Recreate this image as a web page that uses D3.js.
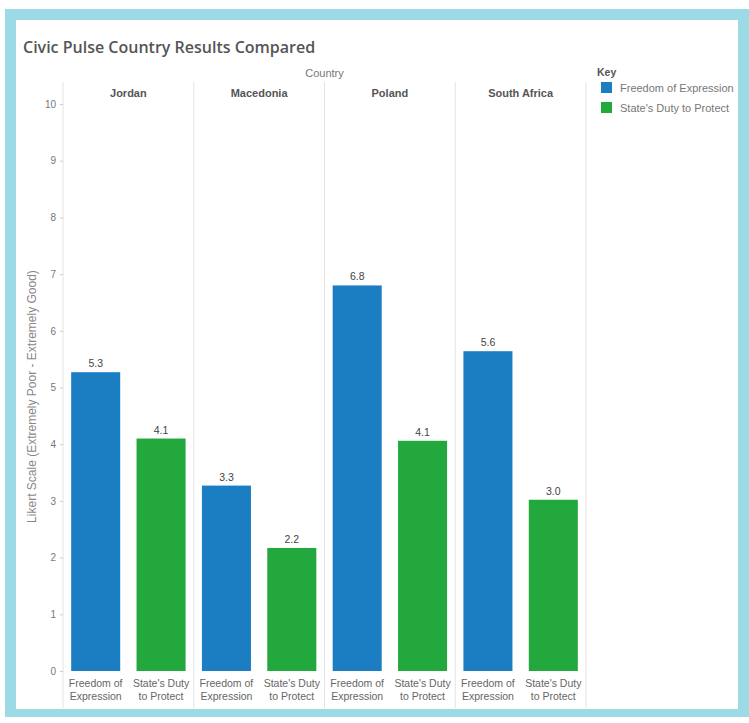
<!DOCTYPE html>
<html>
<head>
<meta charset="utf-8">
<script src="https://cdn.jsdelivr.net/npm/d3@7"></script>
<style>
  body { margin: 0; background: #fff; }
  svg { display: block; }
</style>
</head>
<body>
<div id="chart"></div>
<script>
// data
const countries = ["Jordan", "Macedonia", "Poland", "South Africa"];
const measures = ["Freedom of Expression", "State's Duty to Protect"];
const measureLines = [["Freedom of", "Expression"], ["State's Duty", "to Protect"]];
const freedomValues = [5.27, 3.27, 6.80, 5.64];
const dutyValues = [4.10, 2.17, 4.06, 3.02];
const yTicks = [0, 1, 2, 3, 4, 5, 6, 7, 8, 9, 10];
const colors = ["#1c7ec2", "#22a83c"];

const width = 749, height = 723;
const plot = {left: 63, right: 586, top: 104, bottom: 671, lineTop: 82, lineBottom: 708};

const svg = d3.select("#chart").append("svg")
  .attr("width", width)
  .attr("height", height);

// cyan frame
svg.append("rect")
  .attr("x", 5).attr("y", 9).attr("width", 744).attr("height", 708)
  .attr("fill", "#9cdbe6");
svg.append("rect")
  .attr("x", 16).attr("y", 20).attr("width", 722).attr("height", 689)
  .attr("fill", "#fff");

svg.append("text")
  .attr("x", 23).attr("y", 53)
  .attr("font-family", "'Open Sans', sans-serif")
  .attr("font-weight", 600)
  .attr("font-size", 16)
  .attr("fill", "#555")
  .text("Civic Pulse Country Results Compared");

const x0 = d3.scaleBand()
  .domain(countries)
  .range([plot.left, plot.right]);

const x1 = d3.scaleBand()
  .domain(measures)
  .range([0, x0.bandwidth()])
  .paddingInner(0.25)
  .paddingOuter(0.125);

const y = d3.scaleLinear()
  .domain([0, 10])
  .range([plot.bottom, plot.top]);

const font = "'Liberation Sans', Arial, sans-serif";

// panel divider lines
const dividers = [plot.left].concat(countries.map(c => x0(c) + x0.bandwidth()));
svg.append("g").selectAll("line")
  .data(dividers)
  .join("line")
  .attr("x1", d => d).attr("x2", d => d)
  .attr("y1", plot.lineTop).attr("y2", plot.lineBottom)
  .attr("stroke", "#e3e3e3")
  .attr("stroke-width", 1);

// y axis
const yAxis = svg.append("g")
  .attr("transform", `translate(${plot.left},0)`)
  .call(d3.axisLeft(y).tickValues(yTicks).tickSize(3).tickPadding(4).tickFormat(d3.format("d")));
yAxis.select(".domain").remove();
yAxis.selectAll("line").attr("stroke", "#ccc");
yAxis.selectAll("text")
  .attr("font-family", font)
  .attr("font-size", 10)
  .attr("fill", "#777");

svg.append("text")
  .attr("transform", `translate(36,${(plot.top + plot.bottom) / 2 + 9}) rotate(-90)`)
  .attr("text-anchor", "middle")
  .attr("font-family", font)
  .attr("font-size", 12)
  .attr("fill", "#888")
  .text("Likert Scale (Extremely Poor - Extremely Good)");

// headers
svg.append("text")
  .attr("x", (plot.left + plot.right) / 2).attr("y", 77)
  .attr("text-anchor", "middle")
  .attr("font-family", font)
  .attr("font-size", 11)
  .attr("fill", "#777")
  .text("Country");

svg.append("g").selectAll("text")
  .data(countries)
  .join("text")
  .attr("x", d => x0(d) + x0.bandwidth() / 2)
  .attr("y", 97)
  .attr("text-anchor", "middle")
  .attr("font-family", font)
  .attr("font-weight", "bold")
  .attr("font-size", 11)
  .attr("fill", "#555")
  .text(d => d);

// bars
const rows = [];
countries.forEach((c, i) => {
  rows.push({country: c, measure: measures[0], value: freedomValues[i], k: 0});
  rows.push({country: c, measure: measures[1], value: dutyValues[i], k: 1});
});

const bars = svg.append("g");
bars.selectAll("rect")
  .data(rows)
  .join("rect")
  .attr("x", d => x0(d.country) + x1(d.measure))
  .attr("y", d => y(d.value))
  .attr("width", x1.bandwidth())
  .attr("height", d => y(0) - y(d.value))
  .attr("fill", d => colors[d.k]);

bars.selectAll("text.val")
  .data(rows)
  .join("text")
  .attr("class", "val")
  .attr("x", d => x0(d.country) + x1(d.measure) + x1.bandwidth() / 2)
  .attr("y", d => y(d.value) - 5)
  .attr("text-anchor", "middle")
  .attr("font-family", font)
  .attr("font-size", 10.5)
  .attr("fill", "#444")
  .text(d => d3.format(".1f")(d.value));

// category labels under the bars
const cat = svg.append("g").selectAll("text.cat")
  .data(rows)
  .join("text")
  .attr("class", "cat")
  .attr("x", d => x0(d.country) + x1(d.measure) + x1.bandwidth() / 2)
  .attr("y", 687)
  .attr("text-anchor", "middle")
  .attr("font-family", font)
  .attr("font-size", 10.5)
  .attr("fill", "#666");
cat.selectAll("tspan")
  .data(d => measureLines[d.k])
  .join("tspan")
  .attr("x", function() { return d3.select(this.parentNode).attr("x"); })
  .attr("dy", (d, i) => i === 0 ? 0 : 13)
  .text(d => d);

// legend
const legend = svg.append("g").attr("transform", "translate(597,0)");
legend.append("text")
  .attr("x", 0).attr("y", 76)
  .attr("font-family", font)
  .attr("font-weight", "bold")
  .attr("font-size", 10.5)
  .attr("fill", "#555")
  .text("Key");
const items = legend.selectAll("g.item")
  .data(measures)
  .join("g")
  .attr("class", "item")
  .attr("transform", (d, i) => `translate(4,${82 + i * 20})`);
items.append("rect")
  .attr("width", 11).attr("height", 11)
  .attr("fill", (d, i) => colors[i]);
items.append("text")
  .attr("x", 19).attr("y", 9.5)
  .attr("font-family", font)
  .attr("font-size", 11)
  .attr("fill", "#777")
  .text(d => d);
</script>
</body>
</html>
